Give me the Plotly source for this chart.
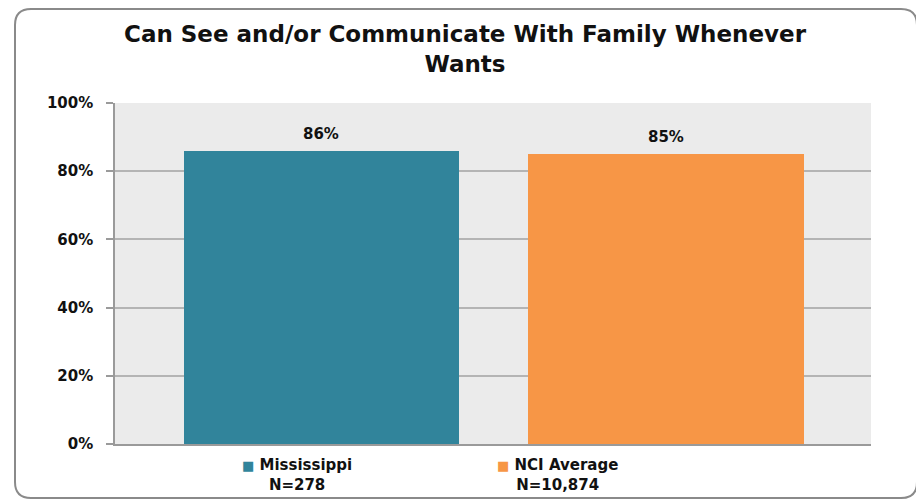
import plotly.graph_objects as go

categories = ["Mississippi", "NCI Average"]
sample_sizes = ["N=278", "N=10,874"]
values = [86, 85]
colors = ["#31849B", "#F79646"]
y_ticks = [0, 20, 40, 60, 80, 100]
y_tick_labels = [f"{t}%" for t in y_ticks]
title_text = "Can See and/or Communicate With Family Whenever<br>Wants"

OFF = 8  # page body margin
W, H = 924 - OFF, 501 - OFF
L, R, T, B = 115 - OFF, 871 - OFF, 103 - OFF, 444 - OFF  # plot area in figure pixels


def px(x):
    return (x - OFF - L) / (R - L)


def py(y):
    return (B - (y - OFF)) / (B - T)


FONT = "DejaVu Sans"

fig = go.Figure()
xpos = list(range(len(categories)))
fig.add_trace(go.Bar(
    x=xpos, y=values, marker=dict(color=colors, line=dict(width=0)),
    width=0.8, showlegend=False, hoverinfo="skip",
))

# data labels
for xi, v in zip(xpos, values):
    fig.add_annotation(
        x=xi, y=v, text=f"{v}%", showarrow=False, yanchor="bottom", yshift=6,
        font=dict(family=FONT, size=15, color="#111111", weight="bold"),
    )

# legend-like annotations
legend_x = [297, 557]
for i, (cat, n) in enumerate(zip(categories, sample_sizes)):
    fig.add_annotation(
        xref="paper", yref="paper", x=px(legend_x[i]), y=py(475),
        text=f"<span style='color:{colors[i]};font-size:13px'>■</span> {cat}<br>{n}",
        showarrow=False, xanchor="center", yanchor="middle",
        font=dict(family=FONT, size=15, color="#111111", weight="bold"), align="center",
    )

# rounded border
x0, x1, y0, y1, r = px(15), px(917), py(9), py(498), 16
rx, ry = r / (R - L), r / (B - T)
path = (f"M {x0+rx},{y0} L {x1-rx},{y0} Q {x1},{y0} {x1},{y0-ry} "
        f"L {x1},{y1+ry} Q {x1},{y1} {x1-rx},{y1} L {x0+rx},{y1} "
        f"Q {x0},{y1} {x0},{y1+ry} L {x0},{y0-ry} Q {x0},{y0} {x0+rx},{y0} Z")
fig.add_shape(type="path", xref="paper", yref="paper", path=path,
              line=dict(color="#8a8a8a", width=2), layer="above")

fig.update_layout(
    width=W, height=H,
    margin=dict(l=L, r=W - R, t=T, b=H - B),
    paper_bgcolor="white", plot_bgcolor="#EBEBEB",
    title=dict(text=title_text, xref="container", x=(465 - OFF) / W, xanchor="center",
               yref="container", y=1 - (42 - OFF) / H, yanchor="middle",
               font=dict(family=FONT, size=23, color="#111111", weight="bold")),
    font=dict(family=FONT, color="#111111"),
    bargap=0,
    xaxis=dict(range=[-0.599, 1.595], showticklabels=False, showgrid=False,
               zeroline=False, showline=True, linecolor="#9a9a9a", linewidth=1.5, ticks=""),
    yaxis=dict(range=[0, 100], tickvals=y_ticks, ticktext=y_tick_labels,
               showgrid=True, gridcolor="#b4b4b4", gridwidth=1.5, zeroline=False,
               showline=True, linecolor="#9a9a9a", linewidth=1.5,
               ticks="outside", ticklen=7, tickcolor="#9a9a9a", tickwidth=1.5,
               ticklabelstandoff=10,
               tickfont=dict(family=FONT, size=15, color="#111111", weight="bold")),
)

fig.write_html("out.html")
